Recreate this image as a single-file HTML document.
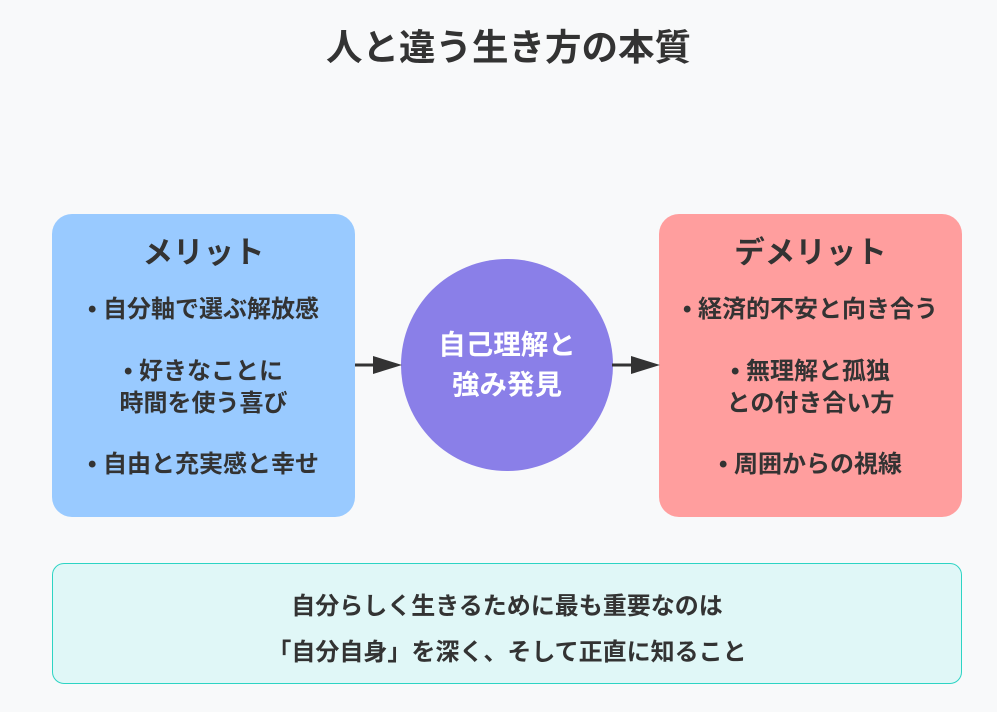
<!DOCTYPE html>
<html><head><meta charset="utf-8"><style>
body{margin:0;width:997px;height:712px;background:#f8f9fa;position:relative;overflow:hidden;font-family:"Liberation Sans","Noto Sans CJK JP",sans-serif;color:#333;font-weight:bold}
.a{position:absolute;text-align:center}
.box{position:absolute;top:214px;width:303px;height:303px;border-radius:20px}
.h{font-size:30.5px;position:absolute;width:100%;top:14px;text-align:center}
.t{position:absolute;width:100%;text-align:center;font-size:24px;line-height:32px}
</style></head><body>
<div class="a" style="left:10px;width:997px;top:24px;font-size:36.5px;line-height:48px">人と違う生き方の本質</div>
<div class="box" style="left:52px;background:#99caff">
<div class="h">メリット</div>
<div class="t" style="top:80px">• 自分軸で選ぶ解放感</div>
<div class="t" style="top:142px">• 好きなことに<br>時間を使う喜び</div>
<div class="t" style="top:235px">• 自由と充実感と幸せ</div>
</div>
<div class="box" style="left:659px;background:#ff9e9e">
<div class="h">デメリット</div>
<div class="t" style="top:80px">• 経済的不安と向き合う</div>
<div class="t" style="top:142px">• 無理解と孤独<br>との付き合い方</div>
<div class="t" style="top:235px">• 周囲からの視線</div>
</div>
<div class="a" style="left:401px;top:259px;width:212px;height:212px;border-radius:50%;background:#8a7fe8;color:#fff;font-size:27.5px;line-height:40px;display:flex;align-items:center;justify-content:center">自己理解と<br>強み発見</div>
<svg width="997" height="712" style="position:absolute;left:0;top:0">
<line x1="355" y1="365" x2="380" y2="365" stroke="#333" stroke-width="3"/>
<polygon points="373,356 402,365 373,374" fill="#333"/>
<line x1="612" y1="365" x2="638" y2="365" stroke="#333" stroke-width="3"/>
<polygon points="631,356 660,365 631,374" fill="#333"/>
</svg>
<div class="a" style="left:52px;top:563px;width:910px;height:121px;background:#e0f7f7;border:1px solid #2dd4c4;border-radius:12px;font-size:24px;line-height:46px;padding-top:20px;box-sizing:border-box">自分らしく生きるために最も重要なのは<br>「自分自身」を深く、そして正直に知ること</div>
</body></html>
